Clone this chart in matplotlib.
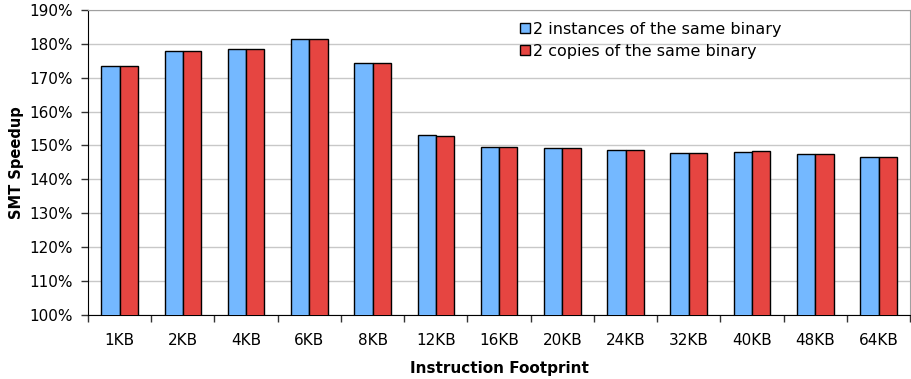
import numpy as np
import matplotlib.pyplot as plt
from matplotlib.ticker import FixedLocator

# data (speedup in %)
footprints = ['1KB', '2KB', '4KB', '6KB', '8KB', '12KB', '16KB', '20KB',
              '24KB', '32KB', '40KB', '48KB', '64KB']
instances = [173.4, 177.8, 178.4, 181.3, 174.3, 153.0, 149.4, 149.3,
             148.8, 147.9, 148.2, 147.6, 146.6]
copies = [173.3, 177.8, 178.4, 181.3, 174.3, 152.9, 149.4, 149.2,
          148.6, 147.9, 148.4, 147.6, 146.5]

plt.rcParams['font.family'] = 'DejaVu Sans'

fig = plt.figure(figsize=(9.12, 3.79), dpi=100)
ax = fig.add_axes([0.0965, 0.169, 0.9015, 0.805])

x = np.arange(len(footprints))
w = 0.29
ax.bar(x - w / 2, instances, w, color='#74b8ff', edgecolor='black',
       linewidth=1.0, label='2 instances of the same binary', zorder=3)
ax.bar(x + w / 2, copies, w, color='#e64541', edgecolor='black',
       linewidth=1.0, label='2 copies of the same binary', zorder=3)

ax.set_xlim(-0.5, len(footprints) - 0.5)
ax.set_ylim(100, 190)
ax.set_yticks(np.arange(100, 191, 10))
ax.set_yticklabels(['%d%%' % v for v in range(100, 191, 10)], fontsize=11)
ax.yaxis.grid(True, color='#c8c8c8', linewidth=1.0, zorder=0)

ax.set_xticks(x)
ax.set_xticklabels(footprints, fontsize=11)
ax.tick_params(axis='x', which='major', length=0, pad=13)
ax.xaxis.set_minor_locator(FixedLocator(np.arange(-0.5, len(footprints), 1)))
ax.tick_params(axis='x', which='minor', length=5, width=1, color='#333333')
ax.tick_params(axis='y', length=5, width=1, color='#333333', pad=6)

for s in ['top', 'right']:
    ax.spines[s].set_color('#a0a0a0')
ax.spines['left'].set_color('black')
ax.spines['bottom'].set_color('black')

ax.set_ylabel('SMT Speedup', fontsize=10.5, fontweight='bold', labelpad=4)
ax.set_xlabel('Instruction Footprint', fontsize=11, fontweight='bold', labelpad=9)

leg = ax.legend(loc='upper left', bbox_to_anchor=(0.508, 1.008), frameon=False,
                fontsize=11.5, handlelength=0.6, handleheight=0.6,
                handletextpad=0.2, labelspacing=0.45)

fig.savefig('out.png', dpi=100)
